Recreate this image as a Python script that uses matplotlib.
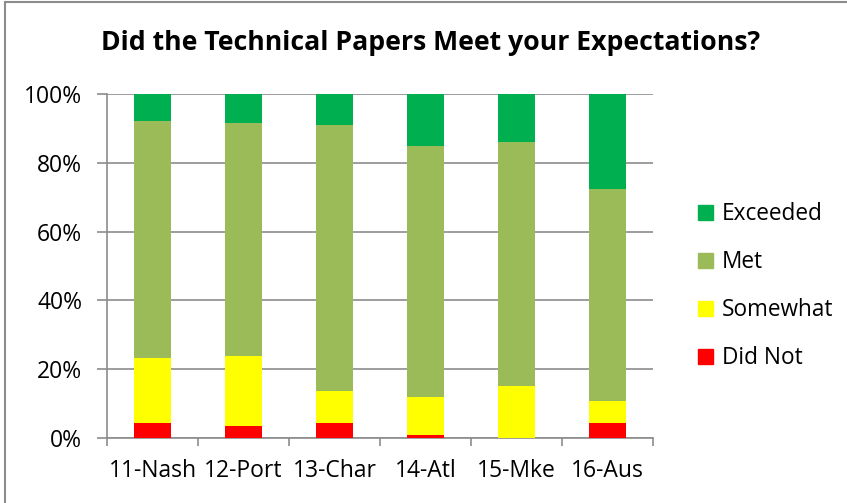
import matplotlib
matplotlib.use("Agg")
import matplotlib.pyplot as plt
import numpy as np
from matplotlib.patches import Patch, Rectangle

plt.rcParams["font.family"] = ["Open Sans", "DejaVu Sans"]

# データ（%）
conferences = ["11-Nash", "12-Port", "13-Char", "14-Atl", "15-Mke", "16-Aus"]
did_not = [4.5, 3.4, 4.4, 1.0, 0.0, 4.5]
somewhat = [18.9, 20.3, 9.2, 10.8, 15.2, 6.2]
met = [68.8, 68.0, 77.5, 73.2, 70.9, 61.8]
exceeded = [7.8, 8.3, 8.9, 15.0, 13.9, 27.5]

series_names = ["Did Not", "Somewhat", "Met", "Exceeded"]
series_colors = ["#FF0000", "#FFFF00", "#9BBB59", "#00B050"]

grid_color = "#8C8C8C"

fig = plt.figure(figsize=(8.47, 5.03), dpi=100)
ax = fig.add_axes([107 / 847, 65 / 503, 546 / 847, 344 / 503])

x = np.arange(len(conferences))
bottom = np.zeros(len(conferences))
for vals, color in zip([did_not, somewhat, met, exceeded], series_colors):
    ax.bar(x, vals, width=0.4, bottom=bottom, color=color, zorder=3)
    bottom += np.array(vals)

ax.set_xlim(-0.5, len(conferences) - 0.5)
ax.set_ylim(0, 100)
ax.set_yticks(np.arange(0, 101, 20))
ax.set_yticklabels([f"{v}%" for v in range(0, 101, 20)], fontsize=16.5)
ax.set_xticks(x)
ax.set_xticklabels(conferences, fontsize=16.5)
ax.tick_params(axis="x", length=0, pad=15)
ax.set_xticks(np.arange(-0.5, len(conferences)), minor=True)
ax.tick_params(axis="x", which="minor", length=6, color=grid_color, width=1.2)
ax.tick_params(axis="y", length=7, color=grid_color, width=1.2, pad=11)
ax.grid(axis="y", color=grid_color, linewidth=1.2, zorder=0)

for side in ["top", "right"]:
    ax.spines[side].set_visible(False)
for side in ["left", "bottom"]:
    ax.spines[side].set_color(grid_color)
    ax.spines[side].set_linewidth(1.2)

fig.text(431 / 847, 1 - 43 / 503, "Did the Technical Papers Meet your Expectations?",
         ha="center", va="center", fontsize=19.2, fontweight="bold")

# 凡例（上から Exceeded）
handles = [Patch(color=c, label=n) for n, c in zip(series_names, series_colors)][::-1]
fig.legend(handles=handles, loc="upper left", bbox_to_anchor=(689 / 847, 1 - 193 / 503),
           frameon=False, fontsize=16.3, handlelength=0.65, handleheight=0.65,
           handletextpad=0.4, labelspacing=1.06, borderaxespad=0)

# 外枠
fig.patches.append(Rectangle((5 / 847, -0.1), 2, 1.1 - 2 / 503, transform=fig.transFigure,
                             fill=False, edgecolor="#8C8C8C", linewidth=1.5))

fig.savefig("out.png", dpi=100)
